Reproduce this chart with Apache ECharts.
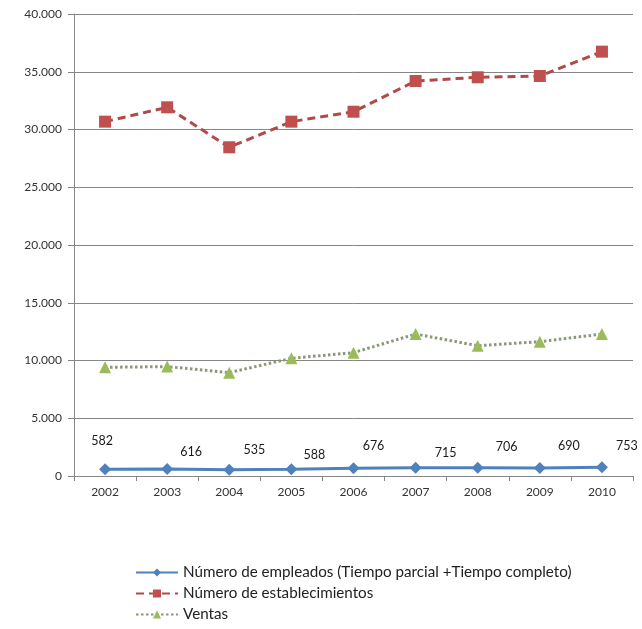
<!DOCTYPE html>
<html>
<head>
<meta charset="utf-8">
<script src="https://cdn.jsdelivr.net/npm/echarts@6/dist/echarts.min.js"></script>
<style>
  html, body { margin: 0; padding: 0; background: #fff; }
  #chart { width: 642px; height: 629px; }
</style>
</head>
<body>
<div id="chart"></div>
<script>
// Years on the category axis
const years = ['2002', '2003', '2004', '2005', '2006', '2007', '2008', '2009', '2010'];

// Series values
const empleados = [582, 616, 535, 588, 676, 715, 706, 690, 753];
const establecimientos = [30680, 31920, 28460, 30680, 31540, 34200, 34520, 34630, 36740];
const ventas = [9410, 9470, 8950, 10190, 10680, 12290, 11280, 11630, 12290];

// Value axis ticks
const yTicks = [0, 5000, 10000, 15000, 20000, 25000, 30000, 35000, 40000];

// Series names for the legend
const seriesNames = [
  'Número de empleados (Tiempo parcial +Tiempo completo)',
  'Número de establecimientos',
  'Ventas'
];

// Placement of each employee value label relative to its point
const labelOffsets = [[-3, -28], [24, -17], [25, -20], [23, -14], [20, -22], [30, -15], [29, -21], [29, -22], [25, -21]];

const FONT = 'Lato';
const fmt = v => String(v).replace(/\B(?=(\d{3})+(?!\d))/g, '.');

const chart = echarts.init(document.getElementById('chart'), null, { renderer: 'canvas' });

chart.setOption({
  animation: false,
  backgroundColor: '#ffffff',
  textStyle: { fontFamily: FONT },
  grid: { left: 74, right: 9, top: 14, bottom: 153, containLabel: false },
  legend: {
    orient: 'vertical',
    left: 130,
    top: 560,
    itemWidth: 42,
    itemHeight: 10,
    itemGap: 6,
    data: seriesNames,
    textStyle: { fontFamily: FONT, fontSize: 15.2, color: '#222' }
  },
  xAxis: {
    type: 'category',
    data: years,
    boundaryGap: true,
    axisLine: { lineStyle: { color: '#868686', width: 1 } },
    axisTick: { show: true, length: 5, interval: 0, lineStyle: { color: '#868686' } },
    axisLabel: { margin: 10, fontSize: 12, color: '#333', fontFamily: FONT }
  },
  yAxis: {
    type: 'value',
    min: yTicks[0],
    max: yTicks[yTicks.length - 1],
    interval: yTicks[1] - yTicks[0],
    axisLine: { show: true, lineStyle: { color: '#868686', width: 1 } },
    axisTick: { show: true, length: 6, lineStyle: { color: '#868686' } },
    splitLine: { lineStyle: { color: '#868686', width: 1 } },
    axisLabel: { margin: 12, fontSize: 12, color: '#333', fontFamily: FONT, formatter: fmt }
  },
  series: [
    {
      name: seriesNames[0],
      type: 'line',
      data: empleados.map((v, i) => ({
        value: v,
        label: { offset: labelOffsets[i] }
      })),
      symbol: 'diamond',
      symbolSize: 12,
      z: 5,
      itemStyle: { color: '#4F81BD' },
      lineStyle: { color: '#4F81BD', width: 3 },
      label: {
        show: true,
        position: 'inside',
        fontSize: 12.5,
        color: '#1a1a1a',
        fontFamily: FONT
      }
    },
    {
      name: seriesNames[1],
      type: 'line',
      data: establecimientos,
      symbol: 'rect',
      symbolSize: 12,
      itemStyle: { color: '#C0504D' },
      lineStyle: { color: '#B04A48', width: 3, type: [8, 5] }
    },
    {
      name: seriesNames[2],
      type: 'line',
      data: ventas,
      symbol: 'triangle',
      symbolSize: 12,
      itemStyle: { color: '#9BBB59' },
      lineStyle: { color: '#8A9878', width: 3, type: [2.5, 2.5] }
    }
  ]
});
</script>
</body>
</html>
